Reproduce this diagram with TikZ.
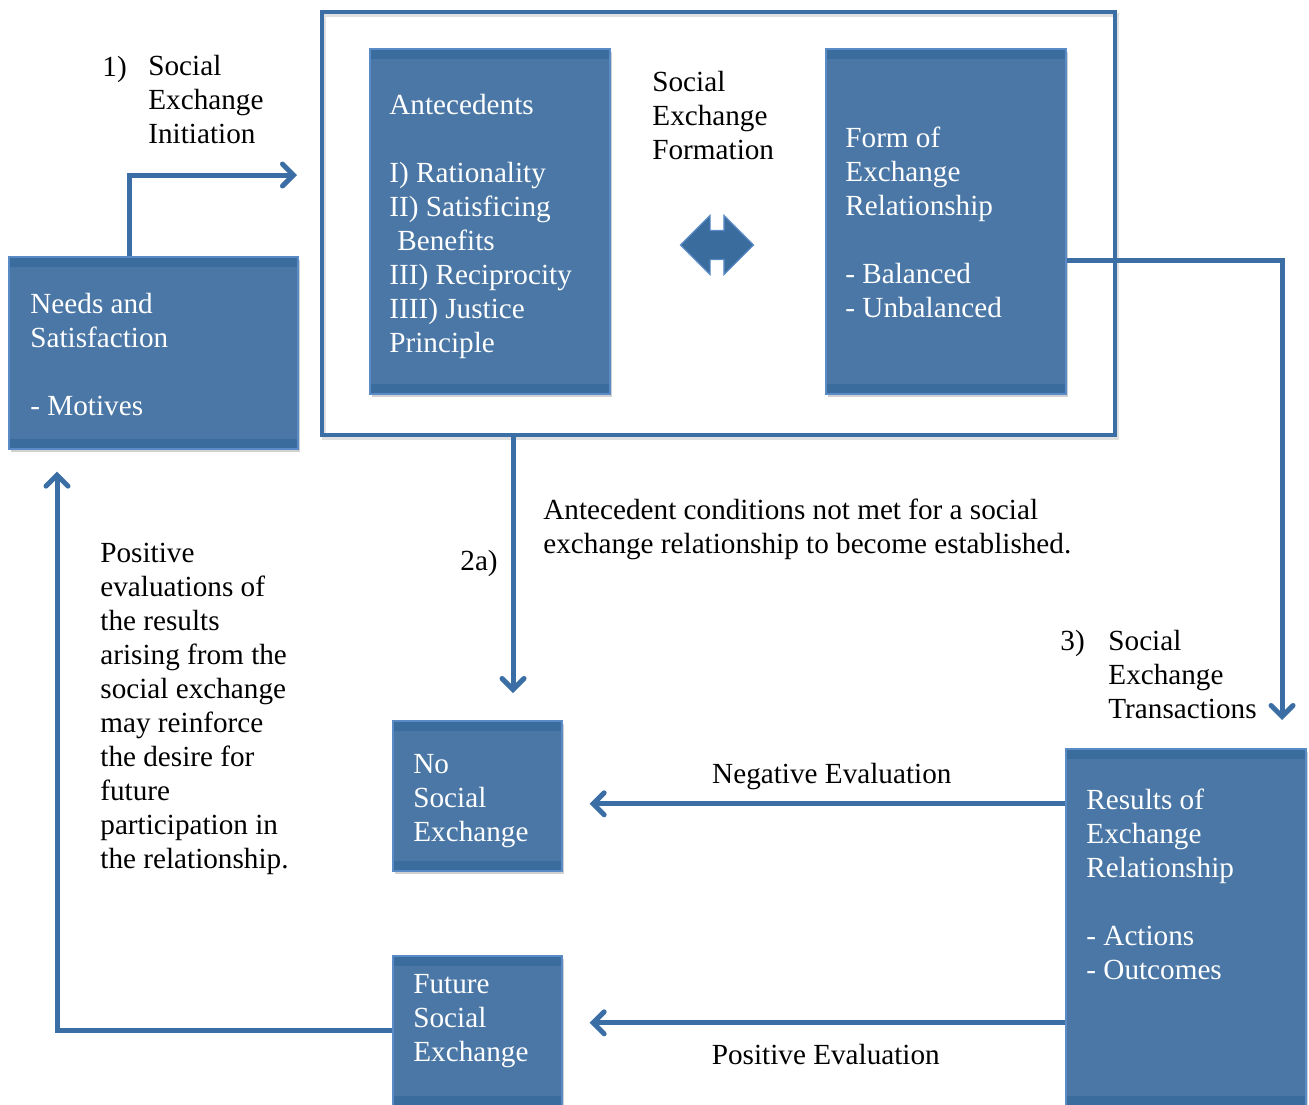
\documentclass[tikz,border=0pt]{standalone}
\usepackage{fontspec}
\setmainfont{Liberation Serif}
\usetikzlibrary{arrows.meta,shapes.arrows,shadows}

\definecolor{seBlue}{HTML}{4A77A5}
\definecolor{seBand}{HTML}{3B6C9E}
\definecolor{seEdge}{HTML}{5A8BC6}
\definecolor{seLine}{HTML}{3A6EA5}

\tikzset{
  blockbox/.style={draw=seEdge, line width=0.8pt, fill=seBlue, anchor=north west, inner sep=0pt,
    drop shadow={shadow xshift=1pt, shadow yshift=-1.5pt, opacity=0.3, fill=black!60},
    path picture={
      \fill[seBand] (path picture bounding box.north west) rectangle ([yshift=-5pt]path picture bounding box.north east);
      \fill[seBand] (path picture bounding box.south west) rectangle ([yshift=5pt]path picture bounding box.south east);}},
  framebox/.style={draw=seLine, line width=2pt, anchor=north west, inner sep=0pt,
    drop shadow={shadow xshift=1pt, shadow yshift=-1.5pt, opacity=0.2, fill=none, draw=black!60}},
  boxtext/.style={anchor=north west, align=left, text=white, inner sep=0pt, font=\fontsize{14.6}{17}\selectfont},
  plaintext/.style={anchor=north west, align=left, text=black, inner sep=0pt, font=\fontsize{14.6}{17}\selectfont},
  evaltext/.style={text=black, inner sep=0pt, font=\fontsize{14.6}{17}\selectfont},
  flow/.style={draw=seLine, line width=2.5pt, -{Straight Barb[length=5.5pt,width=11pt,line cap=round]}},
}

\begin{document}
\begin{tikzpicture}[x=0.5pt, y=-0.5pt]
\useasboundingbox (0,0) rectangle (1309,1104);

% boxes
\node[framebox, minimum width=396.5pt, minimum height=211.5pt] (frame) at (320,10) {};
\node[blockbox, minimum width=144.5pt, minimum height=96pt] (needs) at (8,256) {};
\node[blockbox, minimum width=120pt, minimum height=172.5pt] (ante) at (369,48) {};
\node[blockbox, minimum width=120pt, minimum height=172.5pt] (form) at (825,48) {};
\node[blockbox, minimum width=84.5pt, minimum height=75pt] (noSE) at (392,720) {};
\node[blockbox, minimum width=84.5pt, minimum height=75pt] (future) at (392,955) {};
\node[blockbox, minimum width=120pt, minimum height=178.5pt] (results) at (1065,748) {};

\node[double arrow, fill=seBand, draw=seEdge, line width=0.6pt, minimum height=36.5pt, minimum width=29pt,
  double arrow head extend=7.5pt, double arrow head indent=0pt, inner xsep=0pt, inner ysep=7pt,
  text height=0pt, text depth=0pt] (swap) at (717,245) {};

% box texts
\node[boxtext] (needsTxt) at (30,293) {Needs and\\Satisfaction\\[17pt]- Motives};
\node[boxtext] (anteTxt) at (389,94) {Antecedents\\[17pt]I) Rationality\\II) Satisficing\\\hspace*{4pt}Benefits\\III) Reciprocity\\IIII) Justice\\Principle};
\node[boxtext] (formTxt) at (845,127) {Form of\\Exchange\\Relationship\\[17pt]- Balanced\\- Unbalanced};
\node[boxtext] (noSETxt) at (413,754) {No\\Social\\Exchange};
\node[boxtext] (futureTxt) at (413,974) {Future\\Social\\Exchange};
\node[boxtext] (resultsTxt) at (1086,789) {Results of\\Exchange\\Relationship\\[17pt]- Actions\\- Outcomes};

% plain texts
\node[plaintext] (formation) at (652,71) {Social\\Exchange\\Formation};
\node[plaintext] (initNum) at (102,56) {1)};
\node[plaintext] (initTxt) at (148,55) {Social\\Exchange\\Initiation};
\node[plaintext] (failNum) at (460,550) {2a)};
\node[plaintext] (failTxt) at (543,499) {Antecedent conditions not met for a social\\exchange relationship to become established.};
\node[plaintext] (transNum) at (1060,630) {3)};
\node[plaintext] (transTxt) at (1108,630) {Social\\Exchange\\Transactions};
\node[plaintext] (loopTxt) at (100,543) {Positive\\evaluations of\\the results\\arising from the\\social exchange\\may reinforce\\the desire for\\future\\participation in\\the relationship.};

% connectors
\coordinate (initStart) at ([xshift=60.5pt]needs.north west);
\coordinate (initEnd) at ([yshift=-82.5pt]frame.north west);
\draw[flow, shorten >=11.5pt] (initStart) |- (initEnd);

\coordinate (dropTop) at ([xshift=96.5pt]frame.south west);
\draw[flow, shorten >=13.5pt] (dropTop) -- (dropTop |- noSE.north);

\coordinate (transStart) at ([yshift=-19.75pt]form.east);
\coordinate (transEnd) at ([xshift=108.5pt]results.north west);
\draw[flow, shorten >=14pt] (transStart) -| (transEnd);

\coordinate (negStart) at ([yshift=61.75pt]results.west);
\draw[flow, shorten >=13.5pt] (negStart) -- node[midway, above=6pt, xshift=9pt, evaltext] {Negative Evaluation} (negStart -| noSE.east);

\coordinate (posStart) at ([yshift=-47.75pt]results.west);
\draw[flow, shorten >=13.5pt] (posStart) -- node[midway, below=9.5pt, xshift=6pt, evaltext] {Positive Evaluation} (posStart -| future.east);

\coordinate (loopEnd) at ([xshift=24.5pt]needs.south west);
\draw[flow, shorten >=11pt] (future.west) -| (loopEnd);
\end{tikzpicture}
\end{document}
